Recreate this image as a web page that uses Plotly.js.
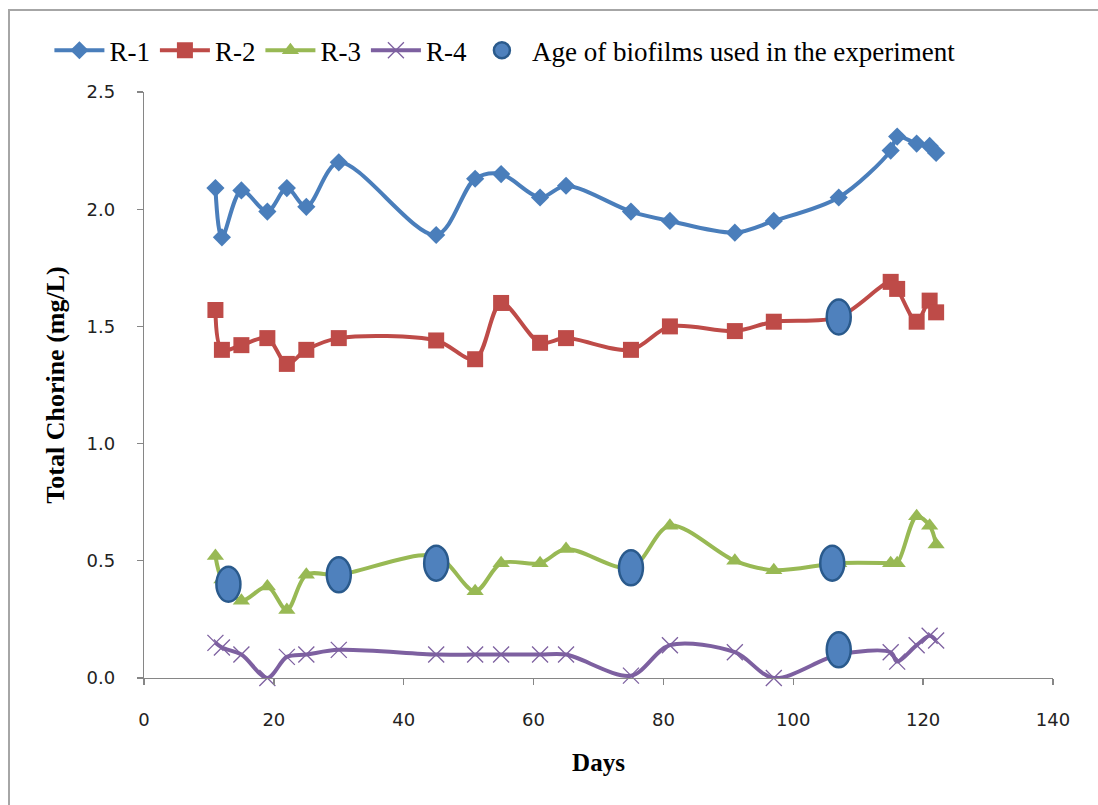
<!DOCTYPE html>
<html>
<head>
<meta charset="utf-8">
<script src="https://cdn.plot.ly/plotly-3.0.1.min.js"></script>
<style>
  html, body { margin: 0; padding: 0; background: #fff; }
  #frame { position: absolute; left: 8px; top: 9px; width: 1100px; height: 810px;
           border-left: 2px solid #a6a6a6; border-top: 2px solid #a6a6a6; }
  #chart { position: absolute; left: 0; top: 0; width: 1098px; height: 805px; }
</style>
</head>
<body>
<div id="frame"></div>
<div id="chart"></div>
<script>
// ---- data ----
const days = [11, 12, 15, 19, 22, 25, 30, 45, 51, 55, 61, 65, 75, 81, 91, 97, 107, 115, 116, 119, 121, 122];
const r1 = [2.09, 1.88, 2.08, 1.99, 2.09, 2.01, 2.20, 1.89, 2.13, 2.15, 2.05, 2.10, 1.99, 1.95, 1.90, 1.95, 2.05, 2.25, 2.31, 2.28, 2.27, 2.24];
const r2 = [1.57, 1.40, 1.42, 1.45, 1.34, 1.40, 1.45, 1.44, 1.36, 1.60, 1.43, 1.45, 1.40, 1.50, 1.48, 1.52, 1.54, 1.69, 1.66, 1.52, 1.61, 1.56];
const r3 = [0.52, 0.42, 0.33, 0.39, 0.29, 0.44, 0.44, 0.52, 0.37, 0.49, 0.49, 0.55, 0.47, 0.65, 0.50, 0.46, 0.49, 0.49, 0.49, 0.69, 0.65, 0.57];
const r4 = [0.15, 0.13, 0.10, 0.00, 0.09, 0.10, 0.12, 0.10, 0.10, 0.10, 0.10, 0.10, 0.01, 0.14, 0.11, 0.00, 0.10, 0.11, 0.07, 0.14, 0.18, 0.16];
const biofilmDays = [13, 30, 45, 75, 106, 107, 107];
const biofilmVals = [0.40, 0.44, 0.49, 0.47, 0.49, 1.54, 0.12];
const seriesNames = ['R-1', 'R-2', 'R-3', 'R-4'];
const biofilmName = 'Age of biofilms used in the experiment';
const xTicks = [0, 20, 40, 60, 80, 100, 120, 140];
const yTicks = [0, 0.5, 1.0, 1.5, 2.0, 2.5];

// ---- styles ----
const lineW = 4;
const styles = [
  {color: '#4a7ebb', symbol: 'diamond', size: 14, lineColor: '#4a7ebb', lw: 0},
  {color: '#be4b48', symbol: 'square', size: 16, lineColor: '#be4b48', lw: 0},
  {color: '#98b954', symbol: 'triangle-up', size: 15, lineColor: '#98b954', lw: 0},
  {color: '#7d60a0', symbol: 'x-thin-open', size: 16, lineColor: '#a08ac8', lw: 1.3}
];
const values = [r1, r2, r3, r4];

const traces = values.map((v, i) => ({
  type: 'scatter',
  mode: 'lines+markers',
  name: seriesNames[i],
  x: days,
  y: v,
  line: {color: styles[i].color, width: lineW, shape: 'spline', smoothing: 0.9},
  marker: {
    symbol: styles[i].symbol,
    size: styles[i].size,
    color: styles[i].color,
    line: {color: styles[i].lineColor, width: styles[i].lw}
  },
  cliponaxis: false
}));

// legend-only entry for biofilm ellipses
traces.push({
  type: 'scatter',
  mode: 'markers',
  name: biofilmName,
  x: [null],
  y: [null],
  marker: {symbol: 'circle', size: 22, color: '#4f81bd', line: {color: '#2a5a8c', width: 2.5}}
});

// ellipses drawn from the biofilm arrays (size in pixels, anchored at data points)
const shapes = biofilmDays.map((d, i) => ({
  type: 'circle',
  xref: 'x', yref: 'y',
  xsizemode: 'pixel', ysizemode: 'pixel',
  xanchor: d, yanchor: biofilmVals[i],
  x0: -12, x1: 12, y0: -17.5, y1: 17.5,
  fillcolor: '#4f81bd',
  line: {color: '#2a5a8c', width: 2.5},
  layer: 'above'
}));

const tickFont = {family: 'DejaVu Sans, Verdana, sans-serif', size: 18, color: '#222'};
const titleFont = {family: 'Liberation Serif, Times New Roman, serif', size: 25, color: '#000', weight: 'bold'};

const layout = {
  width: 1098, height: 805,
  paper_bgcolor: 'rgba(0,0,0,0)',
  plot_bgcolor: 'rgba(0,0,0,0)',
  margin: {l: 144, r: 45, t: 92, b: 127},
  showlegend: true,
  legend: {
    orientation: 'h',
    x: 0.045, xref: 'container', xanchor: 'left',
    y: 0.937, yref: 'container', yanchor: 'middle',
    font: {family: 'Liberation Serif, Times New Roman, serif', size: 27, color: '#000'},
    itemwidth: 50,
    tracegroupgap: 0,
    bgcolor: 'rgba(0,0,0,0)'
  },
  xaxis: {
    range: [0, 140],
    tickvals: xTicks,
    ticktext: xTicks.map(String),
    ticks: 'outside', ticklen: 6, tickwidth: 1.3, tickcolor: '#868686',
    showline: true, linecolor: '#868686', linewidth: 1.3,
    showgrid: false, zeroline: false,
    tickfont: tickFont,
    ticklabelstandoff: 19,
    title: {text: 'Days', font: titleFont, standoff: 24}
  },
  yaxis: {
    range: [0, 2.5],
    tickvals: yTicks,
    ticktext: yTicks.map(v => v.toFixed(1)),
    ticks: 'outside', ticklen: 6, tickwidth: 1.3, tickcolor: '#868686',
    showline: true, linecolor: '#868686', linewidth: 1.3,
    showgrid: false, zeroline: false,
    tickfont: tickFont,
    ticklabelstandoff: 18,
    title: {text: 'Total Chorine (mg/L)', font: {family: titleFont.family, size: 26, color: '#000', weight: 'bold'}, standoff: 14}
  },
  shapes: shapes
};

Plotly.newPlot('chart', traces, layout, {displayModeBar: false, staticPlot: true});
</script>
</body>
</html>
